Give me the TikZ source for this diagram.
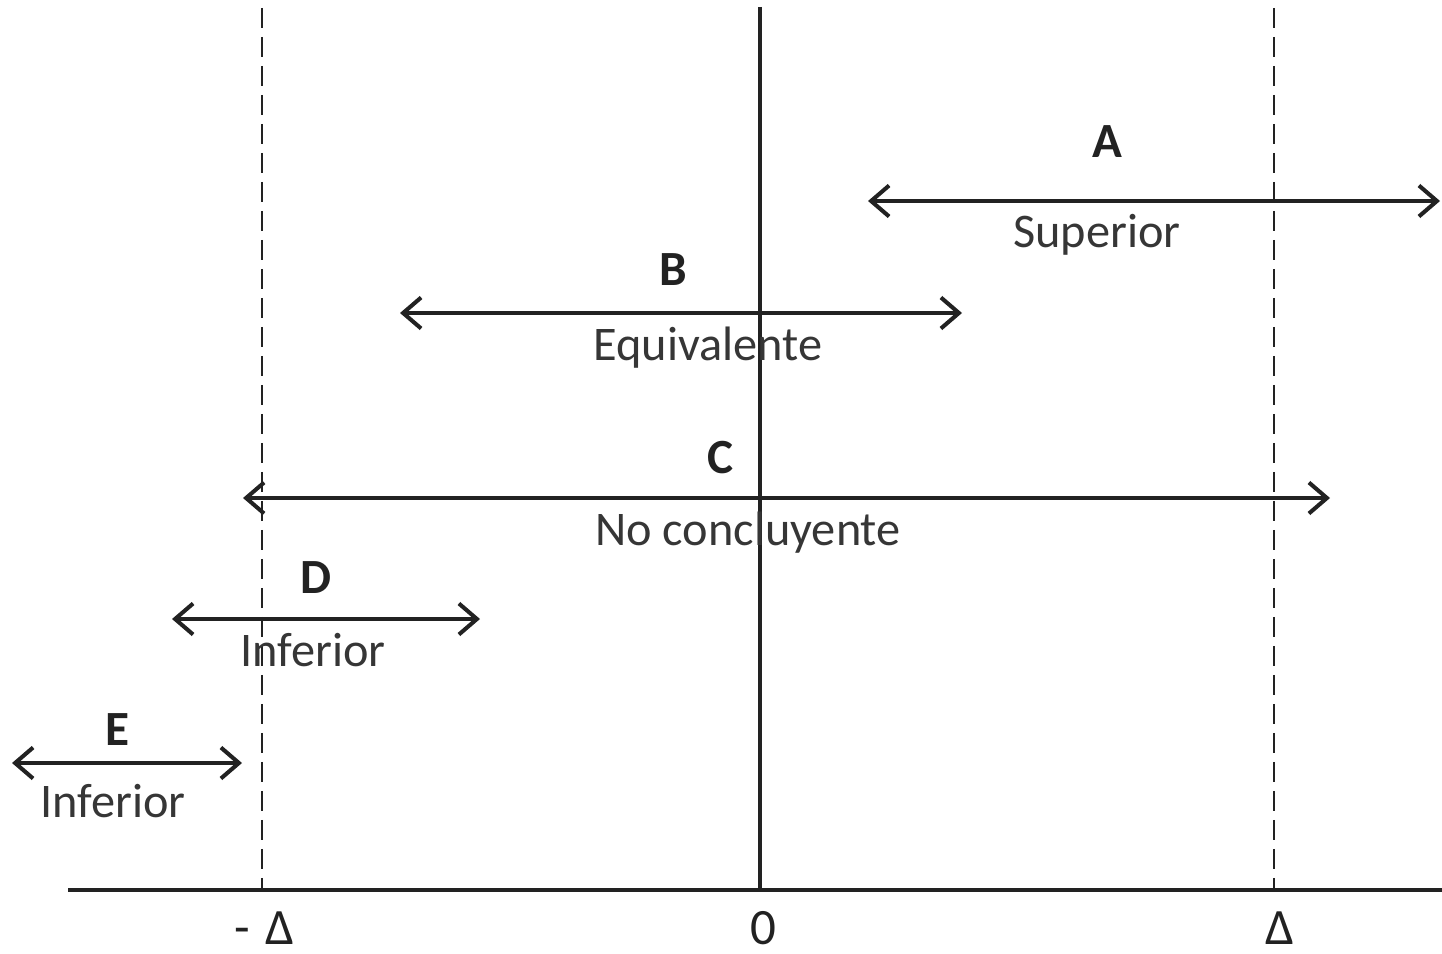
\documentclass[tikz,border=0pt]{standalone}
\usepackage{fontspec}
\setmainfont{Carlito}
\usetikzlibrary{arrows.meta}
\definecolor{ink}{HTML}{222222}
\definecolor{txt}{HTML}{363636}
\tikzset{
  axisline/.style={draw=ink, line width=2.3pt},
  limitline/.style={draw=ink, line width=1.6pt, dash pattern=on 0.4cm off 0.18cm},
  interval/.style={draw=ink, line width=2.3pt, {Straight Barb[length=0.36cm, width=0.62cm]}-{Straight Barb[length=0.36cm, width=0.62cm]}},
  caselabel/.style={anchor=base, inner sep=0pt, text=ink, font=\fontsize{28}{30}\selectfont\bfseries},
  verdict/.style={anchor=base, inner sep=0pt, text=txt, font=\fontsize{27.5}{30}\selectfont},
  ticklabel/.style={anchor=base, inner sep=0pt, text=ink, font=\fontsize{29}{30}\selectfont},
}
\begin{document}
\begin{tikzpicture}[x=0.02cm, y=-0.02cm]
\useasboundingbox (0,0) rectangle (1442,953);

% axis and reference lines
\coordinate (axL) at (68,890);
\coordinate (axR) at (1442,890);
\coordinate (zeroTop) at (760,7);
\coordinate (zeroBot) at (760,890);
\coordinate (mTop) at (262,8);
\coordinate (mBot) at (262,890);
\coordinate (pTop) at (1274,8);
\coordinate (pBot) at (1274,890);
\draw[limitline] (mTop) -- (mBot);
\draw[limitline] (pTop) -- (pBot);
\draw[axisline] (zeroTop) -- (zeroBot);
\draw[axisline] (axL) -- (axR);

% axis labels
\node[ticklabel] (lmd) at (264,944) {-\hspace{0.3em}Δ};
\node[ticklabel] (lzero) at (763,944) {0};
\node[ticklabel] (lpd) at (1280,944) {Δ};

% interval A
\coordinate (a1) at (868,201);
\coordinate (a2) at (1440,201);
\draw[interval] (a1) -- (a2);
\node[caselabel] (la) at (1107,157) {A};
\node[verdict] (va) at (1097,247) {Superior};

% interval B
\coordinate (b1) at (400,313);
\coordinate (b2) at (962,313);
\draw[interval] (b1) -- (b2);
\node[caselabel] (lb) at (673,285) {B};
\node[verdict] (vb) at (708,360) {Equivalente};

% interval C
\coordinate (c1) at (243,498);
\coordinate (c2) at (1330,498);
\draw[interval] (c1) -- (c2);
\node[caselabel] (lc) at (721,473) {C};
\node[verdict] (vc) at (748,545) {No concluyente};

% interval D
\coordinate (d1) at (172,619);
\coordinate (d2) at (480,619);
\draw[interval] (d1) -- (d2);
\node[caselabel] (ld) at (316,593) {D};
\node[verdict] (vd) at (313,666) {Inferior};

% interval E
\coordinate (e1) at (12,763);
\coordinate (e2) at (242,763);
\draw[interval] (e1) -- (e2);
\node[caselabel] (le) at (117,745) {E};
\node[verdict] (ve) at (113,817) {Inferior};
\end{tikzpicture}
\end{document}
